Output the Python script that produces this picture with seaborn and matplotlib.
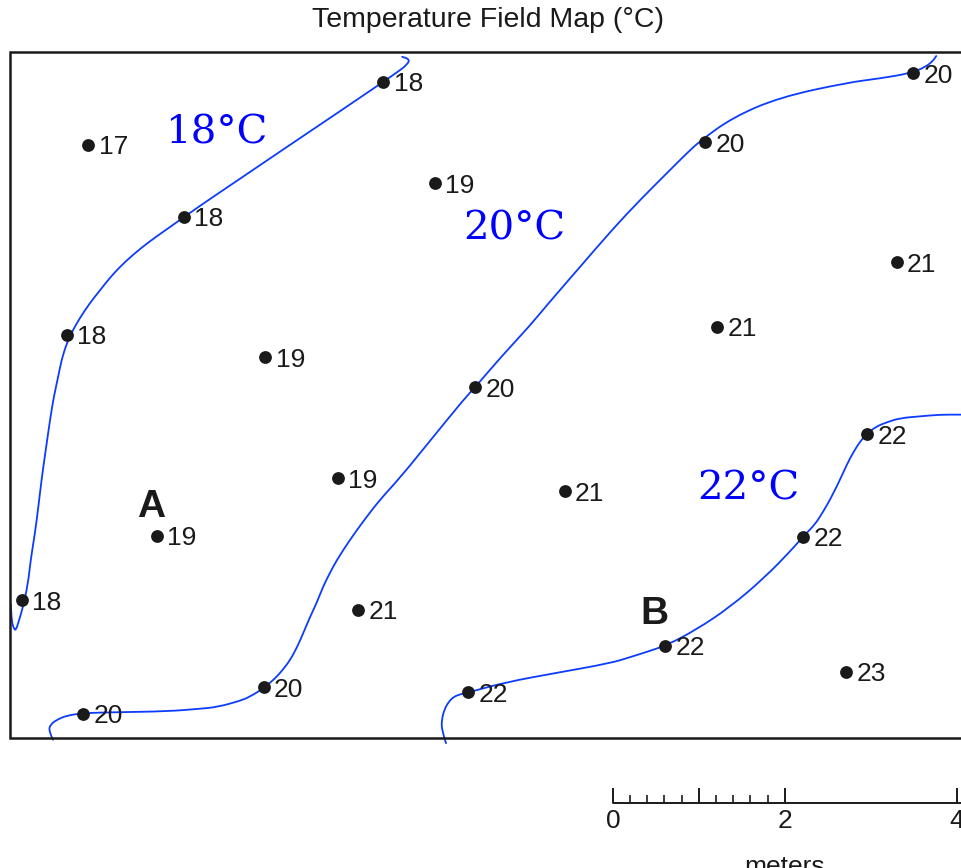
import matplotlib
matplotlib.use('Agg')
import matplotlib.pyplot as plt
from matplotlib.path import Path
from matplotlib.patches import PathPatch
import seaborn as sns
import pandas as pd

# station readings, map coordinates in meters (origin = lower-left corner of the map box)
station_x = [0.91, 4.34, 2.02, 0.66, 0.14, 4.94, 2.97, 3.81, 1.71, 8.08, 10.50, 5.41,
             2.95, 0.85, 10.31, 8.22, 6.45, 4.05, 9.97, 9.22, 7.62, 5.33, 9.72]
station_y = [6.90, 7.63, 6.06, 4.69, 1.60, 6.45, 4.43, 3.02, 2.35, 6.93, 7.73, 4.08,
             0.59, 0.28, 5.53, 4.78, 2.87, 1.49, 3.53, 2.34, 1.07, 0.53, 0.77]
station_temp = [17, 18, 18, 18, 18, 19, 19, 19, 19, 20, 20, 20,
                20, 20, 21, 21, 21, 21, 22, 22, 22, 22, 23]

iso18_x = [4.56, 4.65, 4.62, 4.50, 4.34, 3.84, 3.26, 2.67, 2.21, 1.83, 1.63, 1.43, 1.28,
           1.16, 1.05, 0.93, 0.81, 0.73, 0.66, 0.60, 0.56, 0.51, 0.47, 0.42, 0.37, 0.33,
           0.29, 0.24, 0.21, 0.15, 0.10, 0.07, 0.05, 0.02, 0.01]
iso18_y = [7.92, 7.90, 7.83, 7.74, 7.63, 7.29, 6.90, 6.50, 6.19, 5.92, 5.78, 5.62, 5.48,
           5.35, 5.21, 5.06, 4.88, 4.74, 4.59, 4.40, 4.20, 3.97, 3.73, 3.38, 3.03, 2.69,
           2.38, 2.07, 1.80, 1.52, 1.35, 1.26, 1.26, 1.35, 1.55]

iso20_x = [0.50, 0.45, 0.47, 0.56, 0.66, 0.85, 1.24, 1.83, 2.21, 2.41, 2.67, 2.79, 2.95,
           3.08, 3.17, 3.26, 3.34, 3.41, 3.49, 3.57, 3.64, 3.72, 3.80, 3.95, 4.10, 4.30,
           4.53, 4.88, 5.27, 5.47, 5.70, 6.05, 6.24, 6.63, 7.01, 7.33, 7.64, 7.85, 8.02,
           8.41, 8.95, 9.73, 10.12, 10.47, 10.64, 10.73, 10.77]
iso20_y = [-0.02, 0.08, 0.16, 0.22, 0.26, 0.29, 0.30, 0.31, 0.34, 0.36, 0.43, 0.48, 0.58,
           0.69, 0.79, 0.91, 1.06, 1.22, 1.41, 1.58, 1.76, 1.92, 2.07, 2.30, 2.51, 2.77,
           3.02, 3.45, 3.93, 4.15, 4.42, 4.80, 5.03, 5.48, 5.92, 6.26, 6.57, 6.78, 6.94,
           7.22, 7.45, 7.62, 7.67, 7.73, 7.80, 7.87, 7.93]

iso22_x = [5.07, 5.02, 5.02, 5.05, 5.10, 5.16, 5.24, 5.33, 5.77, 6.37, 6.98, 7.21, 7.37,
           7.64, 7.98, 8.37, 8.78, 9.09, 9.22, 9.33, 9.42, 9.58, 9.74, 9.80, 9.86, 9.92,
           9.98, 10.07, 10.19, 10.35, 10.58, 10.81, 11.06]
iso22_y = [-0.06, 0.09, 0.21, 0.33, 0.42, 0.48, 0.51, 0.53, 0.65, 0.76, 0.87, 0.94, 0.99,
           1.08, 1.26, 1.52, 1.87, 2.19, 2.34, 2.45, 2.57, 2.85, 3.20, 3.31, 3.41, 3.49,
           3.55, 3.62, 3.67, 3.72, 3.74, 3.76, 3.76]

iso_names = ['18°C', '20°C', '22°C']
point_names = ['A', 'B']

# scale bar ticks (meters)
scale_minor = [0.2, 0.4, 0.6, 0.8, 1.2, 1.4, 1.6, 1.8]
scale_major = [0, 1, 2, 4]
scale_labels = [0, 2, 4]

stations = pd.DataFrame({'x': station_x, 'y': station_y, 'temp': station_temp})

sns.set_style('white')
plt.rcParams['font.family'] = ['Liberation Sans', 'DejaVu Sans']

fig = plt.figure(figsize=(9.61, 8.68), dpi=100)
ax = fig.add_axes([0, 0, 1, 1])
ax.set_xlim(-0.1163, 11.0581)
ax.set_ylim(-1.5116, 8.5814)
ax.axis('off')

ink = '#1a1a1a'
blue_line = '#0b3cff'
blue_text = '#0000ff'


def smooth_curve(xs, ys):
    # traced points used as quadratic bezier controls so the pen line stays smooth
    pts = list(zip(xs, ys))
    verts, codes = [pts[0]], [Path.MOVETO]
    for i in range(1, len(pts) - 1):
        nxt = pts[i + 1]
        mid = ((pts[i][0] + nxt[0]) / 2, (pts[i][1] + nxt[1]) / 2)
        verts += [pts[i], mid]
        codes += [Path.CURVE3, Path.CURVE3]
    verts.append(pts[-1])
    codes.append(Path.LINETO)
    return Path(verts, codes)


# map frame (right side runs off the page)
ax.plot([11.5, 0, 0, 11.5], [7.98, 7.98, 0, 0], color=ink, lw=1.8, solid_joinstyle='miter')

# isotherms
for xs, ys in [(iso18_x, iso18_y), (iso20_x, iso20_y), (iso22_x, iso22_y)]:
    ax.add_patch(PathPatch(smooth_curve(xs, ys), facecolor='none', edgecolor=blue_line,
                           lw=1.3, capstyle='round'))

# stations
sns.scatterplot(data=stations, x='x', y='y', color=ink, s=85, linewidth=0, ax=ax,
                legend=False, zorder=3)
for _, r in stations.iterrows():
    ax.annotate(str(int(r['temp'])), (r['x'], r['y']), xytext=(7.5, 0),
                textcoords='offset points', ha='left', va='center_baseline',
                fontsize=19, color=ink)

# isotherm labels
iso_pos = [(2.40, 7.03), (5.86, 5.92), (8.59, 2.90)]
for name, (px, py) in zip(iso_names, iso_pos):
    ax.text(px, py, name, ha='center', va='center', fontsize=29, color=blue_text,
            family=['DejaVu Serif'])

# reference points A and B
for name, (px, py) in zip(point_names, [(1.64, 2.69), (7.49, 1.44)]):
    ax.text(px, py, name, ha='center', va='center', fontsize=28, fontweight='bold', color=ink)

# scale bar
x0, y0 = 7.01, -0.76
ax.plot([x0, x0 + 4.6], [y0, y0], color=ink, lw=1.4)
ax.vlines([x0 + t for t in scale_minor], y0, y0 + 0.10, color=ink, lw=1.2)
ax.vlines([x0 + t for t in scale_major], y0, y0 + 0.18, color=ink, lw=1.4)
for t in scale_labels:
    ax.text(x0 + t, y0 - 0.21, str(t), ha='center', va='center', fontsize=19, color=ink)
ax.text(x0 + 2, y0 - 0.74, 'meters', ha='center', va='center', fontsize=19, color=ink)

fig.text(0.508, 0.977, 'Temperature Field Map (°C)', ha='center', va='center',
         fontsize=20.5, color=ink)

fig.savefig('out.png', dpi=100)
